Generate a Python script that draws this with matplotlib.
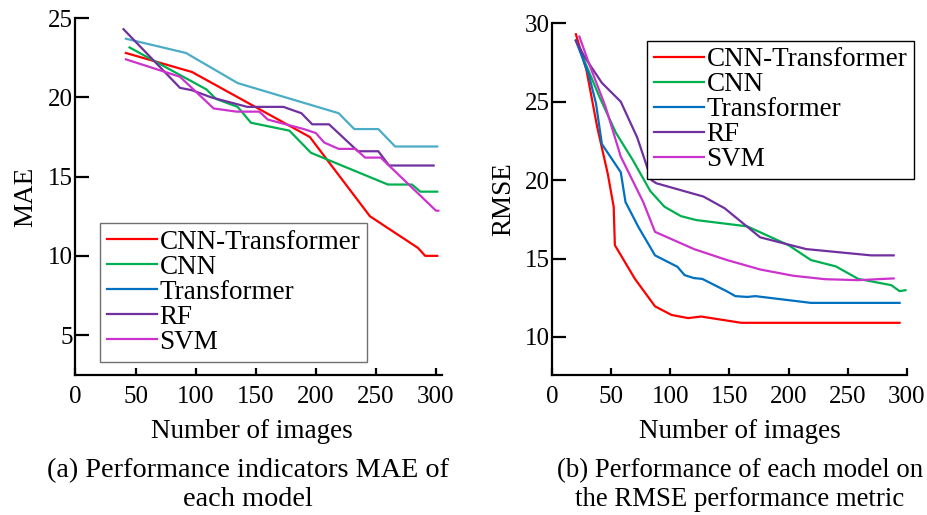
import numpy as np
import matplotlib
matplotlib.use('Agg')
import matplotlib.pyplot as plt
from matplotlib.lines import Line2D

plt.rcParams['font.family'] = ['Liberation Serif', 'DejaVu Serif']

models = ['CNN-Transformer', 'CNN', 'Transformer', 'RF', 'SVM']
colors = ['#FF0000', '#00B050', '#0070C0', '#7030A0', '#CC33CC']
mae_transformer_color = '#4BACC6'

# (a) MAE vs number of images
mae_x = {
    'CNN-Transformer': [42, 97, 195, 245, 285, 291, 301],
    'CNN': [45, 109, 117, 135, 146, 178, 196, 260, 280, 287, 301],
    'Transformer': [42, 92, 135, 219, 232, 252, 266, 301],
    'RF': [40, 87, 97, 113, 143, 173, 188, 197, 211, 235, 252, 261, 298],
    'SVM': [42, 87, 115, 134, 153, 160, 190, 200, 207, 219, 233, 241, 254, 300, 302],
}
mae_y = {
    'CNN-Transformer': [22.8, 21.6, 17.5, 12.5, 10.5, 10.0, 10.0],
    'CNN': [23.15, 20.5, 19.9, 19.4, 18.4, 17.9, 16.5, 14.5, 14.5, 14.05, 14.05],
    'Transformer': [23.7, 22.8, 20.9, 19.0, 18.0, 18.0, 16.9, 16.9],
    'RF': [24.3, 20.6, 20.45, 20.0, 19.4, 19.4, 19.0, 18.3, 18.3, 16.6, 16.6, 15.7, 15.7],
    'SVM': [22.4, 21.3, 19.3, 19.1, 19.1, 18.6, 18.0, 17.75, 17.15, 16.75, 16.75, 16.2, 16.2, 12.85, 12.85],
}

# (b) RMSE vs number of images
rmse_x = {
    'CNN-Transformer': [20, 29, 38, 47, 52, 53, 70, 87, 101, 115, 126, 160, 294],
    'CNN': [20, 40, 54, 68, 83, 95, 109, 122, 165, 200, 219, 240, 259, 287, 294, 299],
    'Transformer': [20, 31, 37, 42, 58, 62, 73, 87, 106, 112, 120, 127, 148, 155, 165, 172, 219, 294],
    'RF': [20, 27, 42, 58, 72, 84, 88, 128, 146, 176, 215, 270, 289],
    'SVM': [23, 31, 45, 58, 77, 87, 120, 148, 176, 204, 231, 259, 289],
}
rmse_y = {
    'CNN-Transformer': [29.3, 27.0, 23.4, 20.4, 18.3, 15.85, 13.7, 11.95, 11.4, 11.2, 11.3, 10.9, 10.9],
    'CNN': [28.9, 25.3, 23.0, 21.3, 19.3, 18.3, 17.7, 17.45, 17.05, 15.85, 14.9, 14.5, 13.7, 13.3, 12.92, 12.98],
    'Transformer': [28.9, 26.7, 24.9, 22.3, 20.5, 18.6, 17.0, 15.2, 14.47, 13.94, 13.75, 13.7, 12.9, 12.6,
                    12.55, 12.6, 12.17, 12.17],
    'RF': [28.9, 27.9, 26.2, 25.0, 22.7, 20.0, 19.8, 18.95, 18.2, 16.35, 15.6, 15.2, 15.2],
    'SVM': [29.15, 27.45, 24.7, 21.5, 18.6, 16.7, 15.6, 14.9, 14.3, 13.9, 13.68, 13.62, 13.73],
}

x_ticks = [0, 50, 100, 150, 200, 250, 300]

fig = plt.figure(figsize=(9.28, 5.15), dpi=100)
ax1 = fig.add_axes([0.0813, 0.2718, 0.395, 0.693])
ax2 = fig.add_axes([0.5951, 0.2718, 0.3819, 0.683])


def style_axis(ax):
    for s in ['top', 'right']:
        ax.spines[s].set_visible(False)
    for s in ['left', 'bottom']:
        ax.spines[s].set_linewidth(1.6)
    ax.tick_params(axis='y', direction='in', length=10, width=1.6, pad=2, labelsize=18)
    ax.tick_params(axis='x', direction='in', length=5, width=1.6, pad=8, labelsize=18)
    ax.set_xticks(x_ticks)


for m, c in zip(models, colors):
    lc = mae_transformer_color if m == 'Transformer' else c
    ax1.plot(mae_x[m], mae_y[m], color=lc, lw=1.6)
ax1.set_xlim(6, 305)
ax1.set_ylim(2.48, 25)
ax1.set_yticks([5, 10, 15, 20, 25])
style_axis(ax1)
ax1.set_ylabel('MAE', fontsize=19.5, labelpad=7)

for m, c in zip(models, colors):
    ax2.plot(rmse_x[m], rmse_y[m], color=c, lw=1.6)
ax2.set_xlim(5.5, 300)
ax2.set_ylim(7.57, 30)
ax2.set_yticks([10, 15, 20, 25, 30])
style_axis(ax2)
ax2.set_ylabel('RMSE', fontsize=19.5, labelpad=6)

handles = [Line2D([0], [0], color=c, lw=1.6) for c in colors]
leg_kw = dict(loc='upper left', bbox_transform=fig.transFigure, fontsize=19.5, fancybox=False,
              framealpha=1, handlelength=1.85, handletextpad=0.1, labelspacing=0.0,
              borderpad=0.25, borderaxespad=0)
leg1 = fig.legend(handles, models, bbox_to_anchor=(100 / 928, 1 - 223 / 515),
                  edgecolor='#707070', **leg_kw)
leg1.get_frame().set_linewidth(1.0)
leg2 = fig.legend(handles, models, bbox_to_anchor=(647 / 928, 1 - 40.7 / 515),
                  edgecolor='black', **leg_kw)
leg2.get_frame().set_linewidth(1.0)

fig.text(252 / 928, 1 - 432 / 515, 'Number of images', ha='center', va='center', fontsize=19.5)
fig.text(740 / 928, 1 - 432 / 515, 'Number of images', ha='center', va='center', fontsize=19.5)
fig.text(248 / 928, 1 - 485 / 515, '(a) Performance indicators MAE of\neach model',
         ha='center', va='center', fontsize=20.3, linespacing=1.2)
fig.text(740 / 928, 1 - 485 / 515, '(b) Performance of each model on\nthe RMSE performance metric',
         ha='center', va='center', fontsize=19.3, linespacing=1.25)

fig.savefig('out.png', dpi=100)
